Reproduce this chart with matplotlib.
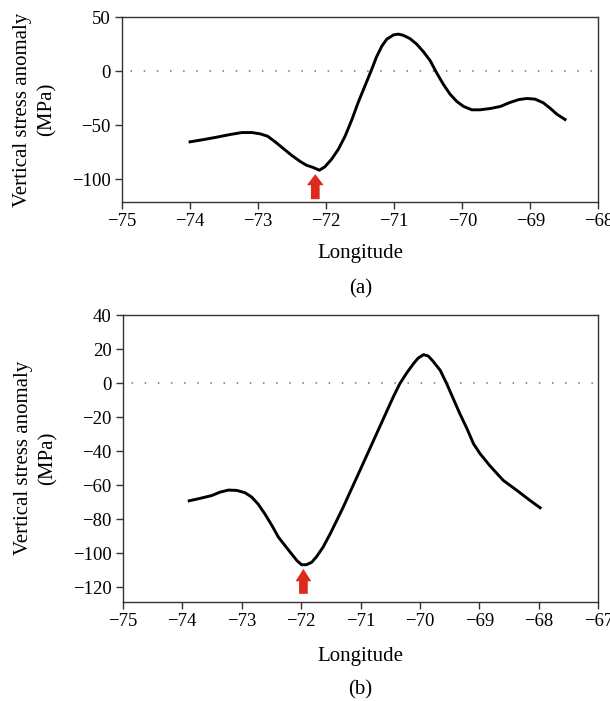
import matplotlib
matplotlib.use("Agg")
import matplotlib.pyplot as plt

# panel (a)
lon_a = [-74.00, -73.80, -73.61, -73.41, -73.24, -73.09, -72.97, -72.86, -72.75, -72.63,
         -72.51, -72.38, -72.29, -72.19, -72.10, -72.02, -71.92, -71.82, -71.72, -71.62,
         -71.53, -71.43, -71.33, -71.26, -71.18, -71.11, -71.01, -70.94, -70.87, -70.77,
         -70.67, -70.57, -70.47, -70.38, -70.28, -70.18, -70.08, -69.98, -69.86, -69.74,
         -69.59, -69.44, -69.30, -69.17, -69.05, -68.93, -68.81, -68.71, -68.61, -68.49]
stress_a = [-65.5, -63.4, -61.2, -58.7, -56.9, -56.9, -58.1, -60.3, -65.5, -71.7,
            -77.9, -83.8, -87.2, -89.3, -91.8, -88.7, -81.6, -72.3, -60.0, -44.5,
            -29.0, -13.6, 1.9, 13.3, 23.5, 29.7, 33.7, 34.4, 33.4, 30.3,
            25.1, 18.0, 9.6, -1.2, -12.0, -21.3, -28.1, -32.7, -35.8, -35.8,
            -34.6, -32.7, -29.0, -26.3, -25.3, -25.9, -29.3, -34.3, -39.9, -44.8]

# panel (b)
lon_b = [-73.88, -73.70, -73.50, -73.36, -73.22, -73.08, -72.94, -72.83, -72.72, -72.61,
         -72.49, -72.38, -72.27, -72.16, -72.07, -71.99, -71.91, -71.82, -71.74, -71.63,
         -71.51, -71.40, -71.29, -71.15, -71.01, -70.87, -70.73, -70.59, -70.45, -70.34,
         -70.22, -70.11, -70.03, -69.94, -69.86, -69.78, -69.66, -69.55, -69.44, -69.33,
         -69.21, -69.10, -68.99, -68.82, -68.60, -68.37, -68.15, -67.98]
stress_b = [-69.2, -67.8, -66.1, -64.1, -62.9, -63.1, -64.5, -67.0, -71.2, -76.8,
            -83.7, -90.6, -95.5, -100.4, -104.3, -106.8, -106.8, -105.3, -102.1, -96.5,
            -88.6, -80.8, -72.9, -62.1, -51.4, -40.6, -29.8, -19.0, -8.2, -0.4,
            6.1, 11.4, 14.7, 16.7, 15.9, 12.8, 7.5, -0.4, -9.2, -18.0,
            -26.8, -35.7, -41.5, -48.8, -57.2, -63.1, -69.0, -73.3]

xticks_a = [-75, -74, -73, -72, -71, -70, -69, -68]
yticks_a = [50, 0, -50, -100]
xticks_b = [-75, -74, -73, -72, -71, -70, -69, -68, -67]
yticks_b = [40, 20, 0, -20, -40, -60, -80, -100, -120]

# red arrows: longitude, tip value, tail value
arrow_a = (-72.16, -95.5, -118.7)
arrow_b = (-71.96, -109.2, -123.9)

plt.rcParams['font.family'] = ['Liberation Serif', 'DejaVu Serif']

fig = plt.figure(figsize=(6.1, 7.01), dpi=100)
ax1 = fig.add_axes([0.200, 0.7114, 0.781, 0.2639])
ax2 = fig.add_axes([0.201, 0.1417, 0.780, 0.4089])

red = "#dc2a1e"
spine_col = "#333333"


def fmt(v):
    return f"\u2212{abs(v)}" if v < 0 else str(v)


def style(ax, xt, yt, xlim, ylim, arrow, arrow_w, head_w, head_l, xlab_y):
    ax.axhline(0, color="#707070", lw=1.1, ls=(3, (1, 7.6)), zorder=1)
    ax.set_xlim(*xlim)
    ax.set_ylim(*ylim)
    ax.set_xticks(xt)
    ax.set_yticks(yt)
    ax.set_xticklabels([fmt(v) for v in xt])
    ax.set_yticklabels([fmt(v) for v in yt])
    ax.tick_params(direction="out", length=5, width=1, labelsize=13.5, color=spine_col,
                   top=False, right=False, pad=3)
    for s in ax.spines.values():
        s.set_color(spine_col)
        s.set_linewidth(1)
    ax.set_xlabel("Longitude", fontsize=15)
    ax.xaxis.set_label_coords(0.5, xlab_y)
    ax.set_ylabel("Vertical stress anomaly\n(MPa)", fontsize=15, linespacing=1.35)
    ax.yaxis.set_label_coords(-0.137, 0.5)
    x0, tip, tail = arrow
    ax.arrow(x0, tail, 0, tip - tail, width=arrow_w, head_width=head_w, head_length=head_l,
             length_includes_head=True, color=red, lw=0, zorder=3)


ax1.plot(lon_a, stress_a, color="black", lw=2.1, zorder=2)
style(ax1, xticks_a, yticks_a, (-75, -68), (-121.6, 50), arrow_a, 0.128, 0.245, 10.2, -0.228)

ax2.plot(lon_b, stress_b, color="black", lw=2.1, zorder=2)
style(ax2, xticks_b, yticks_b, (-75, -67), (-128.5, 40), arrow_b, 0.146, 0.264, 7.3, -0.158)

fig.text(0.5 * (0.200 + 0.981), 1 - 289 / 701, "(a)", ha="center", va="center", fontsize=15)
fig.text(0.5 * (0.201 + 0.981), 1 - 690 / 701, "(b)", ha="center", va="center", fontsize=15)

fig.savefig("out.png", dpi=100)
